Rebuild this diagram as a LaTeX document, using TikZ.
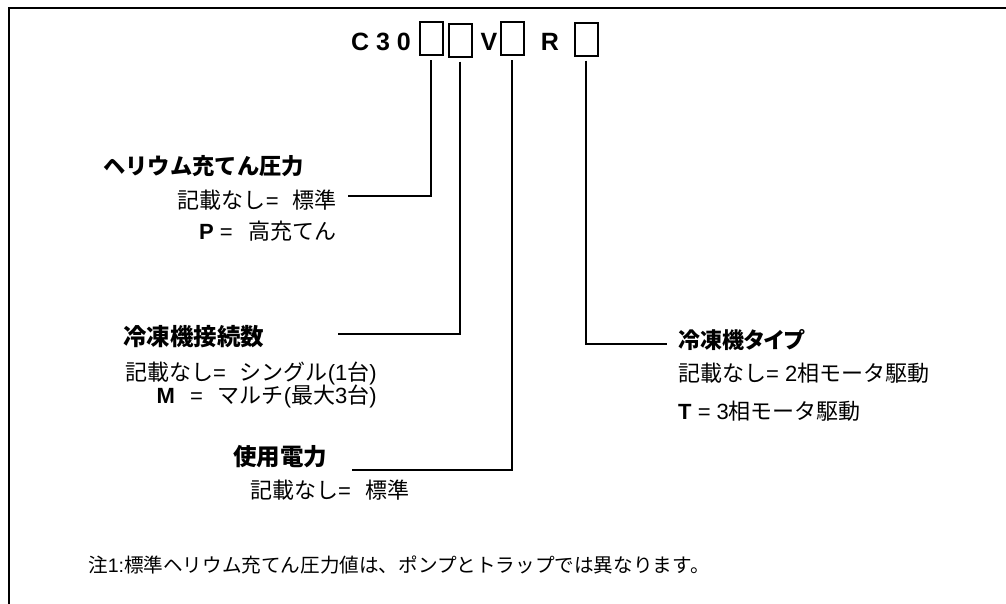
\documentclass[tikz,border=0pt]{standalone}
\usepackage{fontspec}
\setmainfont{Liberation Sans}
\newfontfamily\jp{Noto Sans CJK JP}
\newfontfamily\jpprop[RawFeature=+palt]{Noto Sans CJK JP}
\newcommand{\jpn}[1]{{\jp #1}}
\usepackage{tikz}

\begin{document}
\begin{tikzpicture}[x=1pt,y=-1pt,
  codebox/.style={draw,line width=2pt,minimum width=23pt,minimum height=33pt,inner sep=0pt},
  code/.style={inner sep=0pt,font=\fontsize{25}{30}\selectfont\bfseries},
  head/.style={inner sep=0pt,font=\fontsize{23.5}{28}\selectfont\bfseries\jp},
  item/.style={inner sep=0pt,font=\fontsize{22}{26}\selectfont},
  lead/.style={line width=1.8pt,shorten <=4pt}]

\useasboundingbox (0,0) rectangle (1006,603);

% Frame, open at right and bottom
\draw[line width=2.5pt] (9,610) -- (9,8) -- (1010,8);

% Model code
\node[code,anchor=east] (c30) at (411,42) {C 3 0};
\node[codebox] (b1) at (431,38.5) {};
\node[codebox] (b2) at (460,40) {};
\node[code] (v) at (489,42) {V};
\node[codebox] (b3) at (512,38.5) {};
\node[code] (r) at (550,42) {R};
\node[codebox] (b4) at (586,39) {};

% Helium fill pressure
\node[head,anchor=west,font=\fontsize{22.3}{26}\selectfont\bfseries\jp] (he) at (103,166) {ヘリウム充てん圧力};
\node[item,anchor=east] (he1) at (337,200) {\jpn{記載なし}=\hspace{14pt}\jpn{標準}};
\node[item,anchor=east] (he2) at (337,231) {\textbf{P} =\hspace{16pt}\jpn{高充てん}};
\coordinate (he end) at (348,196);
\draw[lead] (b1.south) |- (he end);

% Cold head connections
\node[head,anchor=west] (cc) at (123,337) {冷凍機接続数};
\node[item,anchor=east] (cc1) at (377,373) {\jpn{記載なし}=\hspace{14pt}\jpn{シングル}(1\jpn{台})};
\node[item,anchor=east] (cc2) at (377,396) {\textbf{M}\hspace{15pt}=\hspace{15pt}\jpn{マルチ}(\jpn{最大}3\jpn{台})};
\coordinate (cc end) at (338,334);
\draw[lead] (b2.south) |- (cc end);

% Power
\node[head,anchor=west] (pw) at (233,457) {使用電力};
\node[item,anchor=west] (pw1) at (250,490) {\jpn{記載なし}=\hspace{14pt}\jpn{標準}};
\coordinate (pw end) at (352,470);
\draw[lead] (b3.south) |- (pw end);

% Cold head type
\node[head,anchor=west,font=\fontsize{22}{26}\selectfont\bfseries\jpprop] (ct) at (678,340) {冷凍機タイプ};
\node[item,anchor=west] (ct1) at (678,373) {\jpn{記載なし}= 2\jpn{相モータ駆動}};
\node[item,anchor=west] (ct2) at (678,411) {\textbf{T} = 3\jpn{相モータ駆動}};
\coordinate (ct end) at (667,344);
\draw[lead] (b4.south) |- (ct end);

% Note
\node[inner sep=0pt,anchor=west,font=\fontsize{19.6}{23}\selectfont] (note) at (88,565)
  {\jpn{注}1:\jpn{標準ヘリウム充てん圧力値は、ポンプとトラップでは異なります。}};

\end{tikzpicture}
\end{document}
